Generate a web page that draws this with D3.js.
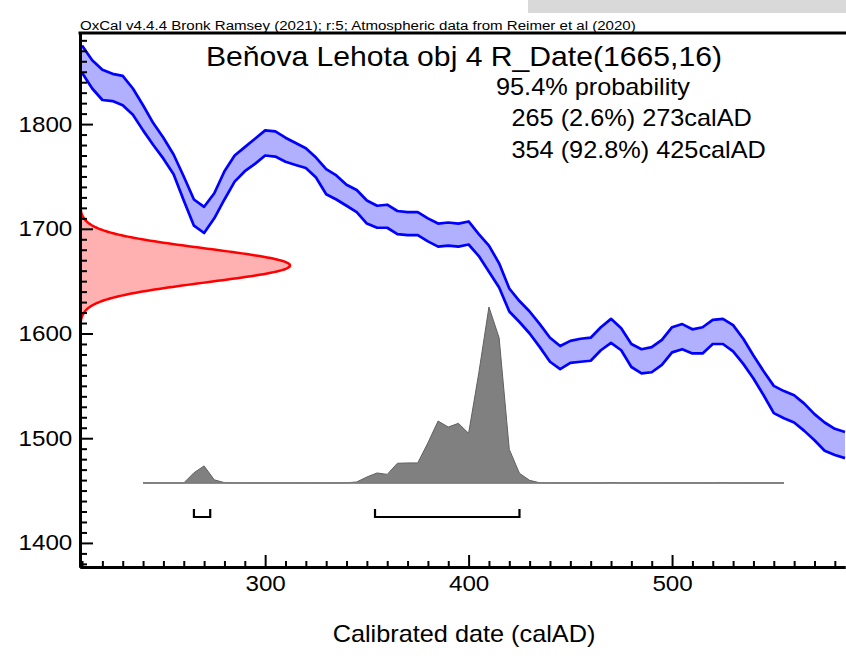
<!DOCTYPE html>
<html>
<head>
<meta charset="utf-8">
<script src="https://cdn.jsdelivr.net/npm/d3@7"></script>
<style>
  body { margin: 0; background: #fff; }
  svg { display: block; }
  text { font-family: "Liberation Sans", Arial, sans-serif; fill: #000; }
</style>
</head>
<body>
<svg id="chart" width="846" height="656"></svg>
<script>
// IntCal20 calibration band (1-sigma envelope), radiocarbon years BP, 5-year grid
const curveYears = [210,215,220,225,230,235,240,245,250,255,260,265,270,275,280,285,290,295,300,305,
  310,315,320,325,330,335,340,345,350,355,360,365,370,375,380,385,390,395,400,405,
  410,415,420,425,430,435,440,445,450,455,460,465,470,475,480,485,490,495,500,505,
  510,515,520,525,530,535,540,545,550,555,560,565,570,575,580,585];
const curveUpper = [1875,1861,1852,1848,1846,1834,1818,1801,1787,1771,1750,1728,1721,1734,1755,1770,1778,1786,1794,1793,
  1787,1782,1777,1768,1757,1751,1742,1737,1727,1722,1723,1717,1716,1716,1710,1705,1706,1705,1707,1695,
  1684,1667,1643,1631,1621,1609,1596,1588,1593,1595,1596,1606,1614,1605,1590,1585,1587,1594,1606,1609,
  1604,1606,1613,1614,1608,1595,1579,1564,1550,1545,1541,1533,1523,1515,1509,1506];
const curveLower = [1849,1834,1823,1822,1818,1809,1794,1780,1767,1752,1727,1703,1696,1710,1728,1745,1755,1762,1770,1769,
  1764,1761,1758,1749,1733,1728,1722,1716,1705,1701,1701,1695,1694,1694,1688,1683,1684,1683,1685,1674,
  1659,1644,1621,1611,1600,1587,1573,1566,1572,1573,1574,1584,1591,1584,1568,1562,1563,1570,1582,1585,
  1581,1581,1590,1590,1583,1571,1557,1541,1524,1519,1515,1507,1498,1488,1484,1481];

// Calibrated (posterior) probability, relative to its maximum
const postYears = [240,245,250,255,260,265,270,275,280,285,290,295,300,305,310,315,320,325,330,335,
  340,345,350,355,360,365,370,375,380,385,390,395,400,405,410,415,420,425,430,435,
  440,445,450,455,460,465,470,475,480,485,490,495,500,505,510,515,520,525,530,535,
  540,545,550,555];
const postProb = [0,0,0,0,0,0.058,0.097,0.018,0.002,0,0,0,0,0,0,0,0,0,0,0,
  0.001,0.006,0.034,0.057,0.049,0.112,0.114,0.114,0.228,0.352,0.318,0.339,0.282,0.624,1.0,0.825,0.191,0.055,0.015,0.001,
  0,0,0,0,0,0,0.003,0,0,0,0,0,0,0,0,0,0,0.002,0,0,
  0,0,0,0];

// Radiocarbon measurement R_Date(1665,16)
const rDateMean = 1665;
const rDateSigma = 16;

// 95.4% highest posterior density ranges (calAD)
const hpdRanges = [[265, 273], [354, 425]];

const xMajorTicks = [300, 400, 500];
const yMajorTicks = [1400, 1500, 1600, 1700, 1800];

const headerText = "OxCal v4.4.4 Bronk Ramsey (2021); r:5; Atmospheric data from Reimer et al (2020)";
const titleText = "Beňova Lehota obj 4 R_Date(1665,16)";
const legendLines = ["95.4% probability", "265 (2.6%) 273calAD", "354 (92.8%) 425calAD"];
const xAxisTitle = "Calibrated date (calAD)";

// ---- layout ----
const svg = d3.select("#chart");
const W = 846, H = 656;
const plot = { left: 80, right: 845, top: 33, bottom: 567 };
const stretch = 1.1;          // text is set slightly wide

const x = d3.scaleLinear().domain([209, 585]).range([plot.left, plot.right]);
const y = d3.scaleLinear().domain([1377, 1887]).range([plot.bottom, plot.top]);

svg.append("rect").attr("width", W).attr("height", H).attr("fill", "#fff");
// grey strip at the top right
svg.append("rect").attr("x", 528).attr("y", 0).attr("width", W - 528).attr("height", 13).attr("fill", "#d9d9d9");

svg.append("defs").append("clipPath").attr("id", "plotClip")
  .append("rect").attr("x", plot.left).attr("y", plot.top)
  .attr("width", W - plot.left).attr("height", plot.bottom - plot.top);

const g = svg.append("g").attr("clip-path", "url(#plotClip)");

// calibration band
const band = curveYears.map((yr, i) => ({ yr, hi: curveUpper[i], lo: curveLower[i] }));
g.append("path").datum(band)
  .attr("d", d3.area().x(d => x(d.yr)).y0(d => y(d.lo)).y1(d => y(d.hi)))
  .attr("fill", "#b0b0ff");
["hi", "lo"].forEach(k => {
  g.append("path").datum(band)
    .attr("d", d3.line().x(d => x(d.yr)).y(d => y(d[k])))
    .attr("fill", "none").attr("stroke", "#0000ff").attr("stroke-width", 2.7)
    .attr("stroke-linejoin", "round");
});

// radiocarbon date distribution along the y axis
const pdfX = d3.scaleLinear().domain([0, 1]).range([plot.left, 290]);
const zs = d3.range(-4, 4.0001, 0.04);
const rPts = zs.map(z => ({ v: rDateMean + z * rDateSigma, p: Math.exp(-0.5 * z * z) }));
g.append("path").datum(rPts)
  .attr("d", d3.area().y(d => y(d.v)).x0(pdfX(0)).x1(d => pdfX(d.p)))
  .attr("fill", "#ffb0b0");
g.append("path").datum(rPts)
  .attr("d", d3.line().y(d => y(d.v)).x(d => pdfX(d.p)))
  .attr("fill", "none").attr("stroke", "#ff0000").attr("stroke-width", 2.5);

// posterior distribution
const postBase = 483, postHeight = 176;
const py = d3.scaleLinear().domain([0, 1]).range([postBase, postBase - postHeight]);
const post = postYears.map((yr, i) => ({ yr, p: postProb[i] }));
g.append("path").datum(post)
  .attr("d", d3.area().x(d => x(d.yr)).y0(py(0)).y1(d => py(d.p)))
  .attr("fill", "#808080").attr("stroke", "#606060").attr("stroke-width", 1)
  .attr("stroke-linejoin", "round");
g.append("line")
  .attr("x1", x(postYears[0])).attr("x2", x(postYears[postYears.length - 1]))
  .attr("y1", py(0)).attr("y2", py(0))
  .attr("stroke", "#808080").attr("stroke-width", 1.5);

// HPD range brackets
const brTop = 509, brBot = 517;
g.selectAll("path.hpd").data(hpdRanges).join("path").attr("class", "hpd")
  .attr("d", d => `M${x(d[0])},${brTop}V${brBot}H${x(d[1])}V${brTop}`)
  .attr("fill", "none").attr("stroke", "#000").attr("stroke-width", 2.2);

// ---- axes ----
const xMinor = d3.range(210, 590, 10).filter(v => xMajorTicks.indexOf(v) < 0);
const yMinor = d3.range(1380, 1890, 10).filter(v => yMajorTicks.indexOf(v) < 0);
const fmt = d3.format("d");

const xAxisG = svg.append("g").attr("transform", `translate(0,${plot.bottom})`);
xAxisG.append("g").call(d3.axisBottom(x).tickValues(xMinor).tickSize(-6).tickSizeOuter(0).tickFormat(""));
xAxisG.append("g").call(d3.axisBottom(x).tickValues(xMajorTicks).tickSize(-12).tickSizeOuter(0).tickPadding(8).tickFormat(fmt));

const yAxisG = svg.append("g").attr("transform", `translate(${plot.left},0)`);
yAxisG.append("g").call(d3.axisLeft(y).tickValues(yMinor).tickSize(-7).tickSizeOuter(0).tickFormat(""));
yAxisG.append("g").call(d3.axisLeft(y).tickValues(yMajorTicks).tickSize(-13).tickSizeOuter(0).tickPadding(7).tickFormat(fmt));

svg.selectAll(".domain").attr("stroke", "#000").attr("stroke-width", 3);
svg.selectAll(".tick line").attr("stroke", "#000").attr("stroke-width", 2);
svg.selectAll(".tick text")
  .attr("font-size", 22)
  .attr("font-family", "Liberation Sans, Arial, sans-serif")
  .attr("transform", `scale(${stretch},1)`);
xAxisG.selectAll(".tick text").attr("x", 0);

// top frame line
svg.append("line").attr("x1", plot.left - 1.5).attr("x2", W).attr("y1", plot.top).attr("y2", plot.top)
  .attr("stroke", "#000").attr("stroke-width", 3);

// ---- text ----
function stretchedText(tx, ty, str, size, anchor) {
  svg.append("text")
    .attr("transform", `translate(${tx},${ty}) scale(${stretch},1)`)
    .attr("font-size", size)
    .attr("text-anchor", anchor || "start")
    .text(str);
}
stretchedText(80, 30, headerText, 13.7);
stretchedText(206, 66, titleText, 27.4);
stretchedText(496, 95, legendLines[0], 23);
stretchedText(511.5, 126, legendLines[1], 23);
stretchedText(511.5, 158, legendLines[2], 23);
stretchedText(464, 642, xAxisTitle, 23, "middle");
</script>
</body>
</html>
